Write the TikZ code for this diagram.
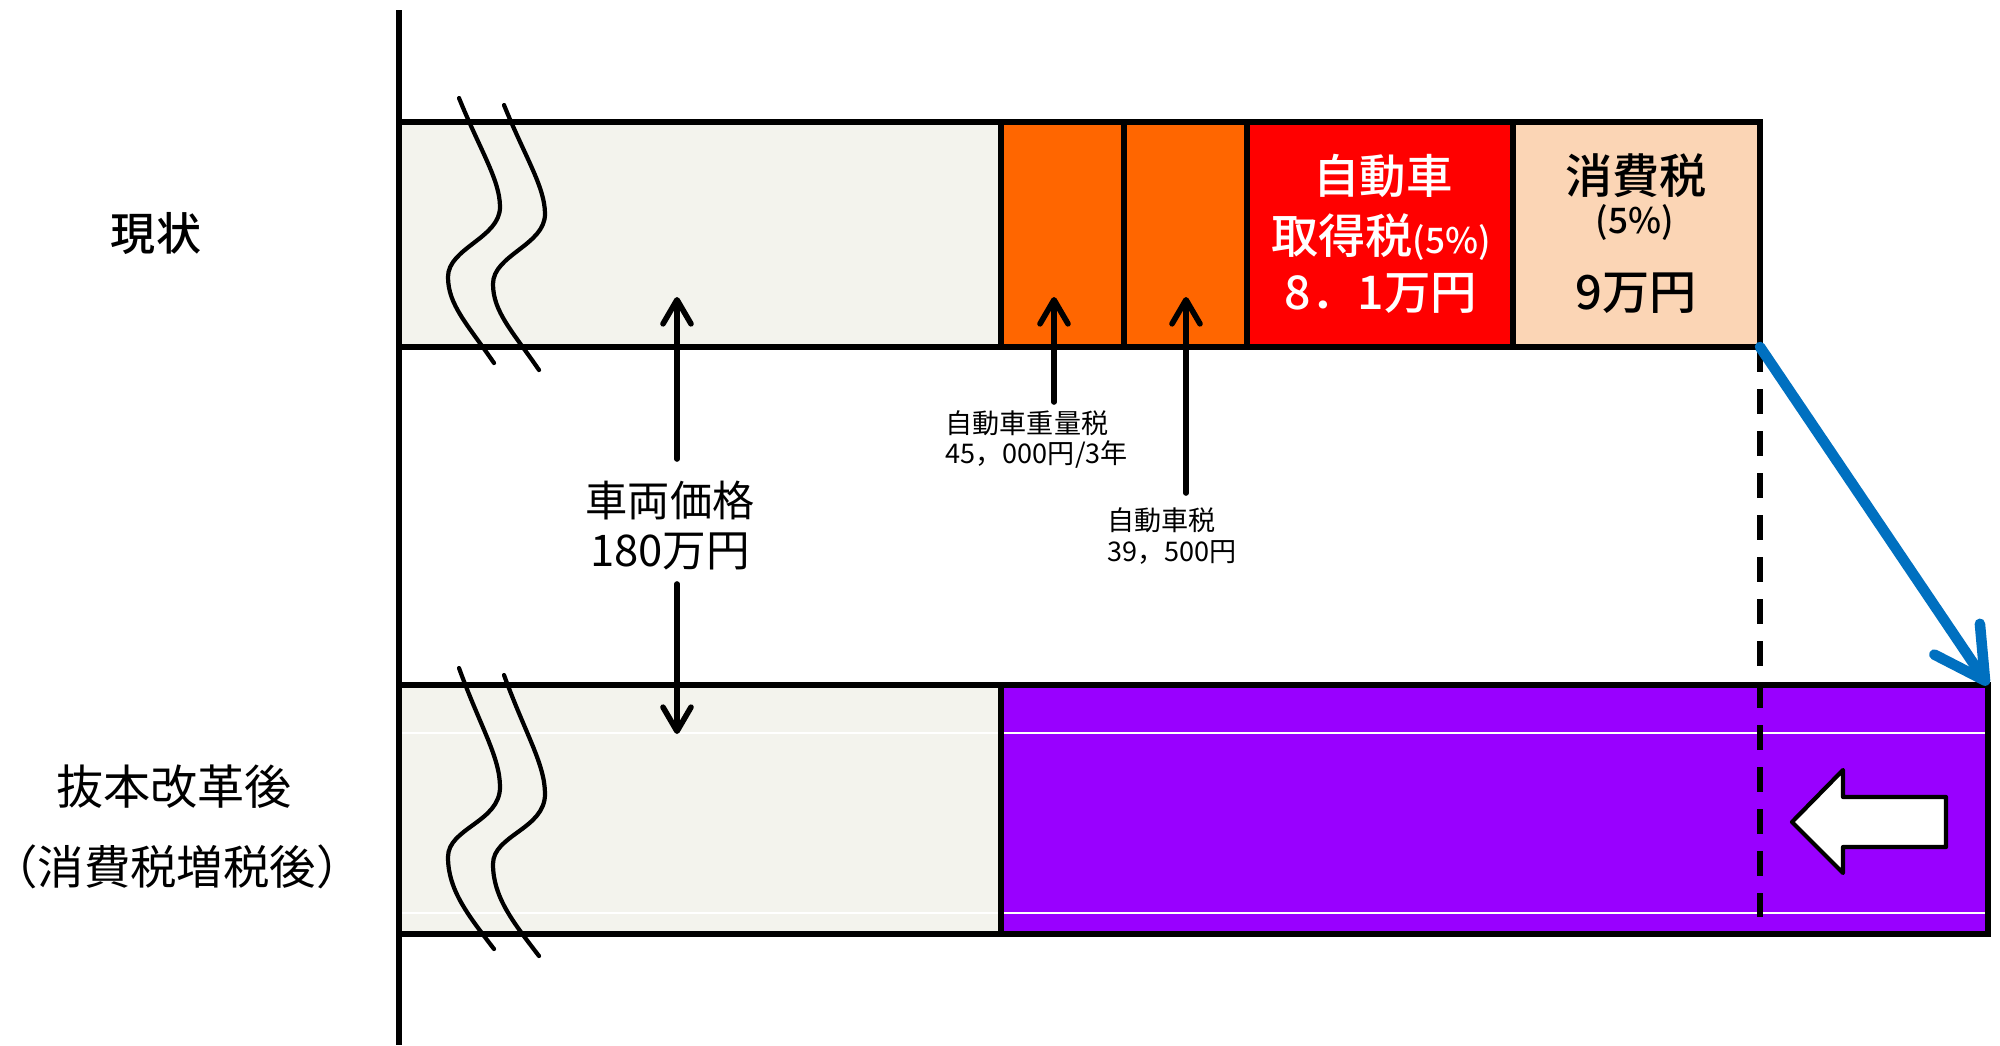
\documentclass[tikz,border=0pt]{standalone}
\usepackage{fontspec}
\setmainfont{Noto Sans CJK JP}
\newfontfamily\medfont{Noto Sans CJK JP Medium}
\usetikzlibrary{arrows.meta}
\definecolor{barGray}{HTML}{F3F3ED}
\definecolor{taxOrange}{HTML}{FF6600}
\definecolor{taxRed}{HTML}{FF0000}
\definecolor{taxPeach}{HTML}{FBD5B5}
\definecolor{taxPurple}{HTML}{9900FF}
\definecolor{arrowBlue}{HTML}{0070C0}
\newcommand\fsz[1]{\fontsize{#1}{#1}\selectfont}
\begin{document}
\begin{tikzpicture}[x=0.01cm,y=-0.01cm,
  barline/.style={line width=1.7pt, draw=black},
  brk/.style={line width=1.2pt, line cap=round},
  ptr/.style={line width=1.6pt, line cap=round, -{Straight Barb[length=0.24cm,width=0.28cm,round]}},
  lbl/.style={inner sep=0pt, text=black},
  lblw/.style={inner sep=0pt, text=white},
]
\useasboundingbox (0,0) rectangle (2000,1045);

% axis
\draw[line width=1.8pt] (399,10) -- (399,1045);

% top bar
\draw[barline, fill=barGray] (399,122) rectangle (1001,347);
\draw[barline, fill=taxOrange] (1001,122) rectangle (1124,347);
\draw[barline, fill=taxOrange] (1124,122) rectangle (1247,347);
\draw[barline, fill=taxRed] (1247,122) rectangle (1513,347);
\draw[barline, fill=taxPeach] (1513,122) rectangle (1760,347);

% bottom bar
\fill[barGray] (399,685) rectangle (1001,934);
\fill[taxPurple] (1001,685) rectangle (1988,934);
\draw[white, line width=0.35pt] (402,733) -- (1985,733);
\draw[white, line width=0.35pt] (402,913) -- (1985,913);
\draw[barline] (399,685) rectangle (1001,934);
\draw[barline] (1001,685) rectangle (1988,934);

% dashed guide
\draw[line width=1.7pt, dash pattern=on 0.25cm off 0.17cm] (1760,347) -- (1760,917);

% break marks top
\draw[brk] (459,98) .. controls (480,150) and (500,180) .. (500,207)
  .. controls (500,238) and (448,248) .. (448,277)
  .. controls (448,305) and (468,325) .. (494,363);
\draw[brk] (504,105) .. controls (525,157) and (545,187) .. (545,214)
  .. controls (545,245) and (493,255) .. (493,284)
  .. controls (493,312) and (513,332) .. (539,370);
% break marks bottom
\draw[brk] (459,668) .. controls (480,726) and (500,757) .. (500,787)
  .. controls (500,822) and (448,828) .. (448,857)
  .. controls (448,890) and (468,915) .. (494,949);
\draw[brk] (504,675) .. controls (525,733) and (545,764) .. (545,794)
  .. controls (545,829) and (493,835) .. (493,864)
  .. controls (493,897) and (513,922) .. (539,956);

% named points
\coordinate (topBR) at (1760,347);
\coordinate (botTR) at (1988,685);
\coordinate (prUpTail) at (677,459);
\coordinate (prUpTip) at (677,297);
\coordinate (prDnTail) at (677,584);
\coordinate (prDnTip) at (677,734);
\coordinate (wtTail) at (1054,402);
\coordinate (wtTip) at (1054,297);
\coordinate (atTail) at (1186,493);
\coordinate (atTip) at (1186,297);

% blue arrow
\draw[arrowBlue, line width=3pt, line cap=round,
  -{Straight Barb[length=0.5cm,width=0.55cm,round]}] (topBR) -- (botTR);

% black arrows
\draw[ptr] (prUpTail) -- (prUpTip);
\draw[ptr] (prDnTail) -- (prDnTip);
\draw[ptr] (wtTail) -- (wtTip);
\draw[ptr] (atTail) -- (atTip);

% white block arrow
\draw[fill=white, line width=1.2pt, line join=round]
  (1792,822) -- (1843,770) -- (1843,797) -- (1946,797) -- (1946,847)
  -- (1843,847) -- (1843,873) -- cycle;

% labels
\node[lbl] (nowLab) at (156,233) {\fsz{12.8pt}\medfont 現状};
\node[lbl] (aftLabA) at (174,787) {\fsz{13.4pt}抜本改革後};
\node[lbl] (aftLabB) at (177,867) {\fsz{13.2pt}（消費税増税後）};
\node[lbl] (priceA) at (670,500) {\fsz{12pt}車両価格};
\node[lbl] (priceB) at (670,551) {\fsz{12.4pt}180万円};

\node[lblw] (redA) at (1383,176) {\fsz{13.2pt}\medfont 自動車};
\node[lblw] (redB) at (1381,237) {\fsz{13.4pt}\medfont 取得税{\fsz{10pt}(5\%)}};
\node[lblw] (redC) at (1381,293) {\fsz{13.2pt}\medfont 8．1万円};

\node[lbl] (peachA) at (1636,176) {\fsz{13.4pt}\medfont 消費税};
\node[lbl] (peachB) at (1635,222) {\fsz{10pt}\medfont (5\%)};
\node[lbl] (peachC) at (1636,293) {\fsz{13.4pt}\medfont 9万円};

\node[lbl, anchor=west] (wtA) at (945,423) {\fsz{7.7pt}自動車重量税};
\node[lbl, anchor=west] (wtB) at (945,454) {\fsz{7.7pt}45，000円/3年};
\node[lbl, anchor=west] (atA) at (1107,520) {\fsz{7.7pt}自動車税};
\node[lbl, anchor=west] (atB) at (1107,552) {\fsz{7.7pt}39，500円};
\end{tikzpicture}
\end{document}
